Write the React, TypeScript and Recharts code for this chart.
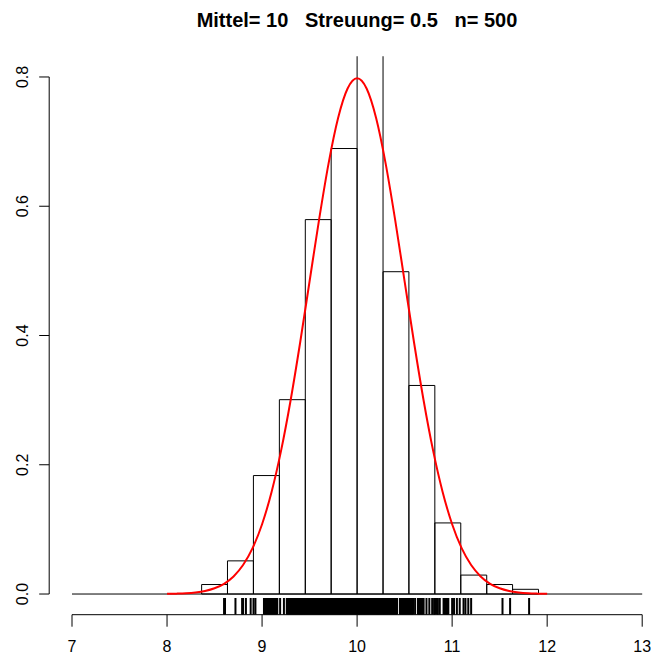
import React from 'react';
import {
  ComposedChart,
  XAxis,
  YAxis,
  Line,
  Scatter,
  ReferenceArea,
  ReferenceLine,
} from 'recharts';

// ---------- data ----------
const titleText = 'Mittel= 10   Streuung= 0.5   n= 500';

const xTicks = [7, 8, 9, 10, 11, 12, 13];
const yTicks = [0, 0.2, 0.4, 0.6, 0.8];
const yTickLabels = ['0.0', '0.2', '0.4', '0.6', '0.8'];

// plot region (R usr coordinates)
const xDomain = [6.76, 13.24];
const yDomain = [-0.032, 0.832];

// histogram: non-empty bins (breaks every 6/22)
const binLeft = [8.364, 8.636, 8.909, 9.182, 9.455, 9.727, 10.0, 10.273, 10.545, 10.818, 11.091, 11.364, 11.636];
const binRight = [8.636, 8.909, 9.182, 9.455, 9.727, 10.0, 10.273, 10.545, 10.818, 11.091, 11.364, 11.636, 11.909];
const binDensity = [0.0147, 0.0513, 0.1833, 0.3007, 0.5793, 0.6893, 0.8653, 0.4987, 0.3227, 0.11, 0.0293, 0.0147, 0.0073];
// full range of the (mostly empty) bins
const histRange = [7, 13];

// red density curve
const curveX = [
  8.0, 8.1, 8.2, 8.3, 8.4, 8.5, 8.6, 8.7, 8.8, 8.9,
  9.0, 9.1, 9.2, 9.3, 9.4, 9.5, 9.6, 9.7, 9.8, 9.9,
  10.0, 10.1, 10.2, 10.3, 10.4, 10.5, 10.6, 10.7, 10.8, 10.9,
  11.0, 11.1, 11.2, 11.3, 11.4, 11.5, 11.6, 11.7, 11.8, 11.9, 12.0,
];
const curveY = [
  0.0003, 0.0006, 0.0012, 0.0025, 0.0048, 0.0089, 0.0158, 0.0272, 0.0448, 0.0709,
  0.108, 0.1579, 0.2218, 0.2995, 0.3884, 0.4839, 0.5794, 0.6664, 0.7365, 0.7821,
  0.7979, 0.7821, 0.7365, 0.6664, 0.5794, 0.4839, 0.3884, 0.2995, 0.2218, 0.1579,
  0.108, 0.0709, 0.0448, 0.0272, 0.0158, 0.0089, 0.0048, 0.0025, 0.0012, 0.0006, 0.0003,
];

// rug (observed values)
const rugValues = [
  8.60, 8.61, 8.72, 8.79, 8.80, 8.83, 8.88, 8.91, 8.93,
  9.02, 9.03, 9.04, 9.05, 9.06, 9.07, 9.08, 9.09, 9.10, 9.11, 9.12, 9.13, 9.14, 9.15, 9.16,
  9.19, 9.23, 9.26,
  9.27, 9.28, 9.29,
  9.30, 9.31, 9.32, 9.33, 9.34, 9.35, 9.36, 9.37, 9.38, 9.39,
  9.40, 9.41, 9.42, 9.43, 9.44, 9.45, 9.46, 9.47, 9.48, 9.49,
  9.50, 9.51, 9.52, 9.53, 9.54, 9.55, 9.56, 9.57, 9.58, 9.59,
  9.60, 9.61, 9.62, 9.63, 9.64, 9.65, 9.66, 9.67, 9.68, 9.69,
  9.70, 9.71, 9.72, 9.73, 9.74, 9.75, 9.76, 9.77, 9.78, 9.79,
  9.80, 9.81, 9.82, 9.83, 9.84, 9.85, 9.86, 9.87, 9.88, 9.89,
  9.90, 9.91, 9.92, 9.93, 9.94, 9.95, 9.96, 9.97, 9.98, 9.99,
  10.00, 10.01, 10.02, 10.03, 10.04, 10.05, 10.06, 10.07, 10.08, 10.09,
  10.10, 10.11, 10.12, 10.13, 10.14, 10.15, 10.16, 10.17, 10.18, 10.19,
  10.20, 10.21, 10.22, 10.23, 10.24, 10.25, 10.26, 10.27, 10.28, 10.29,
  10.30, 10.31, 10.32, 10.33, 10.34, 10.35, 10.36, 10.37, 10.38, 10.39,
  10.40, 10.41, 10.42,
  10.45, 10.46, 10.47, 10.48, 10.49, 10.50, 10.51, 10.52, 10.53, 10.54, 10.55, 10.56, 10.57, 10.58, 10.59,
  10.61,
  10.64, 10.65, 10.66, 10.67, 10.68, 10.69, 10.70,
  10.73, 10.76, 10.79, 10.81, 10.82, 10.84, 10.85, 10.87,
  10.91, 10.92, 10.93, 10.94, 10.95, 10.96,
  11.00, 11.02, 11.05, 11.08, 11.12, 11.14, 11.17, 11.20,
  11.53, 11.61, 11.81,
];

// ---------- derived tables ----------
const curveData = curveX.map((x, i) => ({ x, d: curveY[i] }));
const rugData = rugValues.map((x) => ({ x, y: yDomain[0] }));

const FONT = '"Liberation Sans", Arial, Helvetica, sans-serif';

const XTick = (props: any) => {
  const { x, y, payload } = props;
  return (
    <text x={x} y={y} textAnchor="middle" fontFamily={FONT} fontSize={16} fill="#000">
      {String(payload.value)}
    </text>
  );
};

const YTick = (props: any) => {
  const { x, y, payload } = props;
  const idx = yTicks.indexOf(payload.value);
  const label = idx >= 0 ? yTickLabels[idx] : String(payload.value);
  return (
    <text
      x={0}
      y={0}
      transform={`translate(${x},${y}) rotate(-90)`}
      textAnchor="middle"
      fontFamily={FONT}
      fontSize={16}
      fill="#000"
    >
      {label}
    </text>
  );
};

const RugTick = (props: any) => {
  const { cx, cy } = props;
  if (cx == null || cy == null) return <g />;
  return <line x1={cx} x2={cx} y1={cy} y2={cy - 16.75} stroke="#000" strokeWidth={2} />;
};

export default function App() {
  return (
    <div
      style={{
        position: 'absolute',
        left: 0,
        top: 0,
        width: 651,
        height: 657,
        overflow: 'hidden',
        background: '#fff',
      }}
    >
      <ComposedChart
        width={665}
        height={657}
        margin={{ top: 56.3, right: 0, bottom: 0, left: 0 }}
      >
        <XAxis
          dataKey="x"
          type="number"
          domain={xDomain}
          allowDataOverflow
          ticks={xTicks}
          interval={0}
          height={42.3}
          axisLine={false}
          tickLine={{ stroke: '#000', strokeWidth: 1 }}
          tickSize={12}
          tickMargin={25}
          tick={<XTick />}
        />
        <YAxis
          type="number"
          domain={yDomain}
          allowDataOverflow
          ticks={yTicks}
          interval={0}
          width={49.2}
          axisLine={false}
          tickLine={{ stroke: '#000', strokeWidth: 1 }}
          tickSize={10}
          tickMargin={11}
          tick={<YTick />}
        />

        {binLeft.map((l, i) => (
          <ReferenceArea
            key={`bin-${i}`}
            x1={l}
            x2={binRight[i]}
            y1={0}
            y2={binDensity[i]}
            ifOverflow="hidden"
            fill="none"
            fillOpacity={0}
            stroke="#000"
            strokeWidth={1}
            strokeOpacity={1}
          />
        ))}
        <ReferenceLine
          segment={[
            { x: histRange[0], y: 0 },
            { x: histRange[1], y: 0 },
          ]}
          stroke="#000"
          strokeWidth={1}
          ifOverflow="visible"
        />

        <Line
          data={curveData}
          dataKey="d"
          type="monotone"
          stroke="#FF0000"
          strokeWidth={2}
          dot={false}
          activeDot={false}
          isAnimationActive={false}
        />

        <Scatter
          data={rugData}
          dataKey="y"
          shape={<RugTick />}
          isAnimationActive={false}
        />

        {/* axis lines (R style: only span the tick range) */}
        <ReferenceLine
          segment={[
            { x: xTicks[0], y: yDomain[0] },
            { x: xTicks[xTicks.length - 1], y: yDomain[0] },
          ]}
          stroke="#000"
          strokeWidth={1}
          ifOverflow="visible"
        />
        <ReferenceLine
          segment={[
            { x: xDomain[0], y: yTicks[0] },
            { x: xDomain[0], y: yTicks[yTicks.length - 1] },
          ]}
          stroke="#000"
          strokeWidth={1}
          ifOverflow="visible"
        />
      </ComposedChart>
      <svg
        width={651}
        height={50}
        style={{ position: 'absolute', left: 0, top: 0, pointerEvents: 'none' }}
      >
        <text
          x={357}
          y={27}
          textAnchor="middle"
          fontFamily={FONT}
          fontWeight="bold"
          fontSize={20}
          fill="#000"
          style={{ whiteSpace: 'pre' }}
        >
          {titleText}
        </text>
      </svg>
    </div>
  );
}
